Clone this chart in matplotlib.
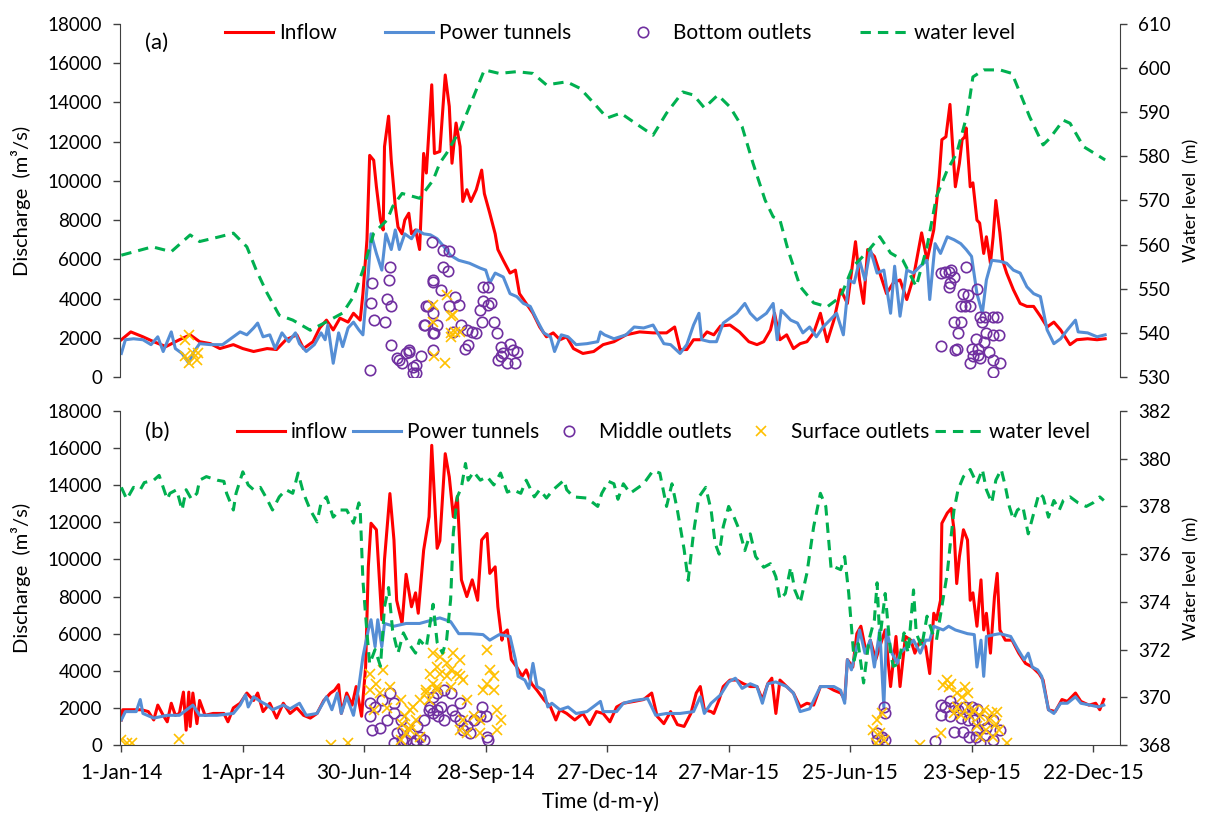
import numpy as np
import matplotlib
matplotlib.use('Agg')
import matplotlib.pyplot as plt
import matplotlib.dates as mdates

plt.rcParams['font.family'] = ['Lato', 'DejaVu Sans']

START = np.datetime64('2014-01-01')

# ---------------- panel (a) : days since 1-Jan-2014 ----------------
a_inflow_day = [0, 7, 16, 24, 33, 43, 51, 58, 66, 73, 83, 90, 98, 108, 115, 122, 130, 135, 142, 147,
                152, 157, 162, 168, 172, 177, 179, 182, 184, 187, 189, 192, 194, 195, 198, 200, 203, 205, 208, 210,
                213, 215, 218, 221, 224, 226, 230, 232, 236, 240, 243, 245, 248, 251, 253, 256, 259, 263, 267, 269,
                273, 277, 279, 283, 288, 292, 295, 300, 305, 310, 315, 320, 325, 330, 335, 342, 350, 357, 365, 374,
                384, 394, 404, 410, 414, 419, 424, 429, 434, 439, 444, 451, 458, 465, 471, 476, 481, 484, 488, 493,
                498, 503, 508, 513, 518, 523, 528, 533, 538, 544, 547, 550, 553, 558, 562, 567, 572, 577, 582, 587,
                593, 597, 602, 606, 608, 611, 614, 616, 618, 621, 623, 625, 626, 629, 631, 634, 636, 639, 641, 644,
                646, 648, 651, 653, 656, 661, 666, 671, 676, 681, 686, 691, 696, 703, 708, 716, 723, 729]
a_inflow = [1900, 2300, 2050, 1800, 1550, 1900, 2150, 1800, 1700, 1450, 1650, 1450, 1300, 1450, 1400, 1900, 2150, 1450, 1800, 2500,
            2900, 2400, 3000, 2800, 3250, 2900, 4250, 7000, 11300, 11050, 9700, 8000, 7500, 11750, 13300, 11050, 8700, 7650, 7300, 8000,
            8350, 7300, 7500, 6500, 11400, 10400, 14900, 11400, 11500, 15400, 13800, 10900, 12950, 11750, 8950, 9550, 8950, 9550, 10550, 9350,
            8350, 7300, 6500, 5950, 5300, 5450, 4250, 3750, 3250, 2550, 2050, 2250, 1900, 2050, 1450, 1200, 1300, 1650, 1800, 2150,
            2300, 2250, 2250, 2550, 1400, 1400, 1900, 1900, 2300, 2150, 2600, 2650, 2300, 1800, 1650, 1800, 2400, 3250, 1900, 2150,
            1450, 1700, 1800, 2250, 3250, 1800, 2900, 4450, 3750, 6900, 4950, 3750, 6500, 6150, 5300, 4250, 4800, 4950, 3950, 5100,
            7350, 5950, 7500, 10200, 12100, 12250, 13900, 11750, 9700, 10900, 12100, 12250, 12700, 9700, 9900, 8000, 7850, 6300, 7150, 5800,
            7150, 9000, 7350, 5950, 5300, 4450, 3750, 3600, 3600, 3100, 2550, 2800, 2400, 1650, 1900, 1950, 1900, 1950]

a_tunnel_day = [0, 3, 9, 16, 22, 27, 31, 37, 40, 45, 50, 53, 58, 66, 75, 83, 88, 93, 98, 101,
                105, 110, 114, 119, 124, 129, 132, 137, 143, 148, 151, 153, 157, 161, 164, 168, 172, 176, 179, 183,
                185, 189, 193, 196, 200, 203, 206, 210, 215, 219, 224, 229, 234, 239, 244, 250, 258, 266, 270, 273,
                277, 283, 288, 293, 298, 303, 308, 313, 318, 321, 326, 331, 337, 345, 353, 355, 358, 365, 374, 380,
                387, 394, 402, 407, 414, 419, 424, 428, 430, 436, 441, 446, 451, 456, 462, 466, 471, 478, 483, 486,
                489, 496, 501, 505, 510, 515, 520, 525, 530, 535, 539, 543, 547, 551, 555, 560, 565, 570, 573, 577,
                582, 587, 592, 597, 599, 603, 607, 612, 617, 622, 626, 630, 634, 638, 641, 645, 651, 656, 661, 666,
                671, 676, 681, 686, 691, 696, 701, 707, 709, 716, 723, 729]
a_tunnel = [1200, 1900, 1950, 1900, 1650, 2050, 1300, 2300, 1450, 1200, 700, 1200, 1700, 1650, 1650, 2050, 2300, 2150, 2500, 2750,
            2050, 2150, 1450, 2250, 1800, 2250, 1700, 1300, 1650, 2250, 1900, 2650, 700, 2250, 1550, 2500, 2800, 2400, 2150, 5300,
            7300, 6300, 5450, 7300, 6500, 7500, 6500, 7300, 7050, 7500, 7300, 7250, 7050, 6650, 6200, 5950, 5800, 5550, 5450, 4800,
            5300, 5100, 4250, 4100, 3750, 3600, 2900, 2250, 2050, 1300, 2150, 2050, 1650, 1700, 1800, 2300, 2150, 1950, 2150, 2550,
            2500, 2650, 1700, 1650, 1200, 1650, 2650, 3250, 1900, 1800, 1800, 2750, 3000, 3250, 3750, 3250, 2900, 3250, 3750, 1900,
            3400, 2900, 2750, 2250, 2550, 2050, 2550, 2900, 3250, 2150, 4950, 4800, 5950, 4950, 6500, 5300, 5450, 3250, 5650, 3100,
            5450, 5300, 5650, 5950, 3950, 6800, 6300, 7150, 7000, 6800, 6500, 6150, 4250, 3250, 4950, 5950, 5900, 5800, 5450, 5300,
            4600, 4250, 4100, 2400, 1700, 1950, 2400, 2900, 2300, 2250, 2050, 2150]

a_bottom_day = [184, 199, 198, 186, 197, 185, 200, 187, 195, 200, 204, 208, 213, 216, 218, 222, 230, 231, 227, 224,
                231, 232, 206, 211, 216, 238, 243, 238, 242, 231, 237, 247, 250, 243, 226, 231, 225, 234, 231, 246,
                252, 256, 260, 263, 267, 276, 266, 272, 268, 272, 268, 274, 255, 257, 278, 281, 283, 288, 290, 293,
                281, 286, 292, 279, 213, 218,
                607, 610, 613, 615, 617, 614, 613, 626, 634, 624, 627, 622, 625, 629, 617, 622, 620, 619, 618, 607,
                636, 640, 646, 649, 638, 641, 646, 650, 633, 639, 635, 630, 631, 636, 643, 646, 651, 635, 629, 646]
a_bottom = [350, 5600, 4950, 4800, 4000, 3750, 3600, 2900, 2800, 1650, 950, 700, 1400, 500, 200, 1050, 6900, 4950, 3600, 2650,
            1400, 2250, 850, 1200, 200, 6500, 6400, 5600, 5400, 4850, 4450, 4100, 3650, 3600, 3600, 3250, 2650, 2650, 2250, 2300,
            2650, 2400, 2300, 2250, 2800, 2800, 3400, 3650, 4600, 4600, 3900, 3750, 1450, 1650, 2250, 1550, 1200, 1700, 1400, 1300,
            1050, 700, 700, 850, 1300, 600,
            5300, 5350, 5350, 5450, 5100, 4800, 4600, 5600, 4500, 4250, 4200, 3600, 3600, 3600, 2800, 2800, 2250, 1450, 1400, 1600,
            3050, 3050, 3050, 3050, 2800, 2250, 2150, 2150, 1950, 1800, 1450, 1450, 1050, 950, 1300, 850, 700, 1100, 700, 250]

a_surface_day = [50, 47, 53, 57, 50, 47, 56, 231, 231, 232, 241, 244, 246, 244, 247, 251, 240, 244]
a_surface = [2150, 1900, 1200, 1200, 700, 1050, 850, 3650, 2800, 1050, 4200, 3100, 3150, 2250, 2300, 2300, 700, 2050]

a_level_day = [0, 23, 37, 51, 58, 73, 83, 93, 100, 108, 117, 127, 140, 152, 164, 172, 179, 187, 197, 201,
               208, 221, 231, 236, 241, 251, 260, 269, 280, 293, 305, 315, 330, 340, 350, 360, 370, 379, 394, 404,
               416, 424, 432, 442, 451, 460, 468, 477, 483, 488, 494, 503, 513, 523, 533, 542, 552, 562, 570, 579,
               589, 597, 604, 612, 619, 627, 631, 639, 651, 660, 666, 673, 683, 688, 698, 703, 713, 729]
a_level = [557.6, 559.5, 558.4, 562.2, 560.7, 561.8, 562.6, 559.5, 554.2, 549.0, 544.0, 542.9, 540.6, 542.5, 544.5, 548.2, 554.2, 562.6, 565.6, 568.6,
           571.6, 570.5, 574.6, 578.5, 580.7, 586.0, 592.8, 599.6, 598.8, 599.2, 598.8, 596.2, 596.9, 595.4, 592.1, 588.7, 589.8, 587.9, 584.8, 589.8,
           594.6, 593.9, 591.0, 593.9, 591.2, 586.7, 578.5, 570.1, 566.3, 565.6, 558.8, 550.5, 546.8, 545.9, 548.2, 555.0, 558.1, 561.8, 558.1, 556.5,
           550.5, 559.5, 570.9, 576.9, 580.7, 589.8, 598.0, 599.6, 599.6, 598.8, 594.3, 589.0, 582.6, 584.1, 588.2, 587.5, 582.2, 579.2]

# ---------------- panel (b) ----------------
b_inflow_day = [0, 1, 9, 15, 20, 24, 27, 31, 34, 37, 40, 43, 46, 48, 50, 51, 53, 56, 58, 62,
                68, 76, 79, 83, 88, 93, 98, 101, 105, 110, 115, 120, 125, 130, 135, 140, 145, 150, 155, 158,
                161, 163, 167, 171, 174, 178, 181, 183, 185, 189, 193, 195, 199, 202, 204, 208, 211, 215, 218, 220,
                224, 228, 230, 234, 236, 240, 243, 246, 249, 252, 256, 260, 264, 267, 271, 273, 277, 279, 282, 283,
                286, 289, 293, 297, 300, 304, 308, 313, 318, 322, 325, 330, 336, 342, 347, 352, 357, 362, 367, 372,
                380, 387, 393, 397, 402, 407, 412, 417, 422, 426, 429, 432, 437, 439, 443, 446, 451, 456, 461, 466,
                471, 475, 479, 482, 485, 488, 493, 498, 503, 508, 513, 518, 523, 528, 533, 536, 538, 542, 545, 548,
                552, 555, 559, 562, 566, 570, 574, 577, 581, 585, 588, 592, 596, 599, 602, 604, 607, 608, 612, 615,
                617, 619, 621, 624, 627, 629, 631, 634, 637, 639, 641, 644, 647, 649, 651, 655, 660, 665, 670, 675,
                680, 683, 687, 692, 697, 701, 707, 711, 717, 722, 725, 728]
b_inflow = [1350, 1900, 1900, 1900, 1800, 1350, 2150, 1600, 1250, 2250, 1600, 1700, 2850, 800, 2850, 1000, 2800, 1150, 2400, 1600,
            1700, 1700, 1250, 2000, 2250, 2800, 2400, 2800, 1800, 2250, 1450, 2250, 1700, 2000, 1600, 1450, 1700, 2400, 2800, 2950,
            3250, 1700, 2800, 2150, 3150, 1550, 4200, 9600, 11950, 11600, 6750, 10000, 13550, 11050, 7800, 6550, 9200, 7450, 8200, 7100,
            10500, 12300, 16150, 10600, 11000, 15700, 14450, 12300, 13400, 8900, 8000, 8900, 7800, 11050, 11400, 9250, 9600, 7450, 5650, 6000,
            6200, 4600, 4200, 3700, 4050, 3300, 2950, 2450, 2050, 1350, 1900, 1700, 1350, 1700, 1100, 1800, 1700, 1250, 2050, 2250,
            2350, 2450, 2800, 1550, 1150, 1800, 1100, 1000, 1700, 2800, 3150, 1900, 1800, 1700, 2450, 3150, 3500, 3500, 3300, 3150,
            3150, 2450, 3300, 3600, 1700, 3500, 3150, 2800, 2050, 2250, 2150, 3150, 3150, 2950, 2800, 2450, 4600, 4200, 6000, 6400,
            4950, 5650, 4600, 5300, 6200, 3150, 5850, 3150, 5850, 5650, 4950, 5650, 5300, 3850, 7100, 6750, 7800, 11950, 12500, 12750,
            11600, 8700, 10150, 11600, 11050, 7800, 8200, 6400, 8900, 6200, 7100, 4950, 8000, 9250, 6200, 5650, 5650, 4950, 4400, 4200,
            3850, 3500, 1900, 1800, 2450, 2350, 2800, 2350, 2150, 2250, 1900, 2450]

b_tunnel_day = [0, 3, 11, 14, 16, 24, 34, 43, 53, 58, 71, 83, 88, 92, 94, 98, 103, 108, 112, 120,
                125, 132, 137, 145, 152, 156, 160, 163, 167, 172, 176, 179, 183, 185, 188, 190, 193, 195, 202, 211,
                221, 231, 236, 244, 250, 258, 268, 273, 280, 288, 292, 294, 299, 302, 305, 308, 313, 316, 319, 325,
                331, 337, 345, 355, 357, 367, 372, 380, 390, 396, 404, 414, 424, 429, 432, 437, 444, 450, 455, 460,
                466, 471, 475, 479, 485, 488, 493, 498, 503, 510, 518, 528, 533, 536, 538, 541, 545, 547, 551, 555,
                558, 562, 565, 567, 571, 575, 577, 582, 587, 592, 596, 599, 602, 609, 613, 618, 627, 632, 634, 637,
                639, 641, 647, 651, 659, 664, 669, 672, 675, 679, 682, 687, 691, 696, 701, 707, 711, 718, 724, 728]
b_tunnel = [1350, 1800, 1800, 2450, 1700, 1450, 1600, 1600, 2150, 1600, 1600, 1700, 2150, 2700, 2050, 2600, 2350, 2150, 1900, 2150,
            1950, 2250, 1600, 1700, 2600, 1900, 2800, 1700, 2600, 1600, 3150, 4750, 6200, 6750, 5300, 6750, 5300, 6550, 6400, 6550,
            6550, 6750, 6850, 6650, 6000, 6000, 5950, 5650, 5950, 5850, 4600, 3700, 3500, 3050, 4400, 3150, 2950, 2050, 2250, 1900,
            2050, 1700, 1800, 2350, 1800, 1800, 2250, 2400, 2500, 1600, 1700, 1700, 1800, 2600, 1700, 2250, 2700, 3400, 3600, 3050,
            3300, 3150, 2250, 3300, 3400, 3300, 3150, 2800, 1800, 1950, 3150, 3150, 2950, 2250, 4600, 4050, 5300, 6200, 4950, 5650,
            4200, 6200, 2050, 6200, 4950, 4400, 4950, 5300, 5650, 4950, 5650, 5650, 6400, 6200, 6400, 6200, 6000, 5950, 4200, 5650,
            3700, 5850, 5950, 6000, 5850, 5200, 4600, 4950, 4200, 4050, 3700, 1900, 1700, 2250, 2250, 2600, 2250, 2150, 2050, 2150]

b_middle_day = [184, 188, 193, 199, 202, 184, 186, 192, 197, 202, 204, 208, 202, 209, 214, 219, 221, 216, 224, 229,
                231, 234, 218, 211, 207, 224, 228, 234, 239, 244, 237, 231, 235, 239, 245, 247, 251, 251, 256, 261,
                267, 266, 270, 253, 258, 271, 272,
                565, 566, 560, 564, 566, 560, 603, 607, 610, 614, 617, 620, 625, 630, 634, 607, 614, 622, 627, 632,
                638, 617, 624, 628, 633, 636, 641, 646, 651, 646, 634, 640]
b_middle = [2250, 2050, 2450, 2800, 2250, 1550, 800, 900, 1350, 1700, 650, 250, 100, 800, 650, 1000, 450, 100, 250, 2050,
            2600, 1900, 250, 250, 1350, 1350, 1900, 2800, 2950, 2800, 2050, 1700, 1550, 1350, 1900, 1550, 2250, 1350, 1000, 1350,
            2050, 1550, 1550, 800, 650, 450, 250,
            2050, 1700, 650, 450, 250, 250, 200, 2150, 2050, 2350, 2050, 1900, 2050, 2050, 1950, 1600, 1550, 1450, 1350, 1350,
            1350, 700, 700, 450, 450, 100, 900, 1350, 800, 250, 800, 550]

b_surface_day = [0, 4, 8, 43, 155, 168, 184, 189, 194, 199, 184, 192, 187, 197, 207, 210, 214, 218, 215, 211,
                 207, 221, 229, 231, 234, 228, 231, 234, 236, 241, 246, 244, 249, 251, 236, 226, 221, 216, 208, 214,
                 226, 234, 241, 244, 251, 253, 256, 261, 266, 256, 266, 271, 273, 276, 271, 276, 268, 278, 281, 278,
                 253, 251,
                 560, 564, 557, 562, 565, 559, 592, 607, 612, 615, 613, 609, 619, 625, 627, 623, 619, 627, 632, 639,
                 645, 649, 617, 622, 629, 636, 643, 648, 634, 641, 646, 650, 636, 656]
b_surface = [250, 100, 100, 350, 0, 100, 3850, 3300, 4050, 3150, 2950, 2800, 1900, 2000, 2450, 1550, 1900, 1350, 1000, 650,
             250, 450, 3850, 3300, 2950, 2450, 4950, 4200, 4750, 4400, 4950, 4050, 3850, 3700, 3850, 2800, 2450, 2050, 1150, 800,
             2950, 3150, 3700, 3150, 4600, 3500, 2450, 1550, 1350, 650, 650, 5100, 4050, 3700, 3300, 2950, 2950, 1900, 1350, 800,
             1350, 800,
             1350, 1700, 800, 650, 250, 100, 0, 650, 3500, 3300, 3150, 3250, 2800, 3150, 2800, 2600, 2050, 2050, 1900, 1900,
             1700, 1800, 1700, 1600, 1550, 1550, 1350, 1150, 1000, 800, 450, 800, 450, 100]

b_level_day = [0, 4, 9, 14, 17, 24, 28, 31, 34, 36, 41, 45, 48, 52, 56, 58, 63, 71, 76, 78,
               83, 85, 90, 94, 98, 103, 108, 112, 117, 122, 127, 131, 135, 140, 145, 148, 152, 157, 162, 167,
               172, 176, 177, 179, 182, 184, 188, 192, 195, 198, 201, 205, 209, 213, 218, 221, 226, 231, 234, 238,
               241, 244, 246, 249, 252, 255, 257, 261, 266, 271, 276, 281, 286, 290, 296, 300, 306, 310, 315, 320,
               328, 330, 335, 345, 353, 356, 361, 365, 368, 372, 377, 382, 387, 394, 399, 404, 408, 412, 417, 420,
               424, 428, 433, 437, 440, 443, 446, 450, 454, 458, 462, 466, 470, 476, 481, 485, 488, 492, 496, 499,
               503, 508, 513, 518, 522, 526, 529, 533, 536, 539, 543, 546, 550, 554, 558, 560, 562, 566, 570, 572,
               576, 580, 583, 587, 589, 593, 597, 601, 604, 608, 612, 614, 617, 620, 624, 629, 634, 638, 641, 645,
               648, 652, 655, 658, 661, 664, 668, 672, 676, 680, 683, 687, 691, 695, 698, 703, 709, 715, 720, 725, 728]
b_level = [378.8, 378.3, 378.8, 378.7, 379.0, 379.1, 379.3, 378.8, 378.3, 378.55, 378.7, 377.85, 378.7, 378.3, 378.55, 379.1, 379.25, 379.1, 379.05, 378.55,
           377.85, 378.55, 379.45, 378.9, 378.7, 378.8, 378.3, 377.85, 378.4, 378.7, 378.55, 379.4, 378.55, 377.85, 377.35, 378.15, 378.4, 377.55, 377.85, 377.85,
           377.3, 378.15, 377.85, 374.9, 372.7, 371.4, 372.0, 371.3, 373.8, 374.6, 372.8, 371.85, 372.7, 372.25, 371.85, 372.4, 372.1, 373.9, 372.3, 371.85,
           372.4, 374.1, 376.9, 378.4, 378.8, 379.8, 379.1, 379.45, 379.1, 379.25, 378.9, 379.4, 378.6, 378.7, 378.55, 379.1, 378.4, 378.7, 378.35, 378.7,
           379.1, 378.7, 378.4, 378.35, 378.0, 378.55, 379.05, 378.95, 378.3, 378.95, 378.55, 378.75, 378.95, 379.5, 379.4, 378.0, 378.95, 377.85, 376.2, 374.9,
           376.9, 378.4, 378.8, 377.85, 376.45, 376.0, 377.15, 378.0, 377.55, 377.0, 376.15, 376.85, 375.9, 375.45, 375.6, 375.05, 374.1, 374.35, 375.45, 374.5,
           373.95, 375.2, 377.15, 378.55, 378.0, 375.35, 375.45, 375.35, 375.9, 374.35, 371.55, 372.25, 370.6, 372.4, 373.25, 374.8, 372.4, 374.35, 371.85, 371.3,
           371.4, 372.7, 371.85, 374.5, 372.7, 372.1, 373.4, 372.7, 372.4, 373.8, 375.2, 376.3, 377.85, 378.7, 379.25, 379.55, 378.95, 379.55, 378.7, 378.15,
           379.1, 379.55, 378.85, 378.0, 377.45, 377.85, 378.0, 376.85, 377.7, 378.55, 378.4, 377.55, 378.25, 377.85, 378.25, 378.4, 378.15, 378.0, 378.15, 378.4, 378.25]

tick_days = [0, 90, 180, 270, 360, 450, 540, 630, 720]

RED = '#FF0000'
BLUE = '#558ED5'
GREEN = '#00B050'
PURPLE = '#7030A0'
YELLOW = '#FFC000'
SPINE = '#404040'
LEG_FS = 15


def to_dates(days):
    return START + np.array(days).astype('timedelta64[D]')


def style_axes(ax, ax2, show_bottom):
    for a in (ax, ax2):
        a.spines['top'].set_visible(False)
        a.spines['bottom'].set_visible(show_bottom)
        a.tick_params(labelsize=13.5, length=5, width=1, color=SPINE, direction='out')
        a.tick_params(axis='y', pad=8)
        for s in a.spines.values():
            s.set_color(SPINE)
    ax.spines['right'].set_visible(False)
    ax2.spines['left'].set_visible(False)
    ax2.spines['bottom'].set_visible(False)
    ax.set_xlim(START - np.timedelta64(1, 'D'), START + np.timedelta64(740, 'D'))
    ax.set_ylim(0, 18000)
    ax.set_yticks(range(0, 18001, 2000))
    ax.set_ylabel('Discharge  (m³/s)', fontsize=14.5, labelpad=12)
    ax2.set_ylabel('Water level  (m)', fontsize=12.8, labelpad=9)


fig = plt.figure(figsize=(12.06, 8.16), dpi=100)
ax_a = fig.add_axes([120 / 1206, 1 - 377 / 816, 1000 / 1206, 353 / 816])
ax_b = fig.add_axes([120 / 1206, 1 - 745 / 816, 1000 / 1206, 334 / 816])
ax_a2 = ax_a.twinx()
ax_b2 = ax_b.twinx()

line_kw = dict(lw=2.2)
dash_kw = dict(color=GREEN, lw=2.2, dashes=(3.4, 2.3))
circ_kw = dict(ls='none', marker='o', ms=7.5, mfc='none', mec=PURPLE, mew=1.2)
x_kw = dict(ls='none', marker='x', ms=7.5, mec=YELLOW, mew=1.2)
leg_kw = dict(frameon=False, fontsize=LEG_FS, handlelength=2.3, handletextpad=0.3,
              borderaxespad=0, borderpad=0, loc='center left')

# panel (a)
h1, = ax_a.plot(to_dates(a_inflow_day), a_inflow, color=RED, label='Inflow', **line_kw)
h2, = ax_a.plot(to_dates(a_tunnel_day), a_tunnel, color=BLUE, label='Power tunnels', **line_kw)
h3, = ax_a.plot(to_dates(a_bottom_day), a_bottom, label='Bottom outlets', **circ_kw)
ax_a.plot(to_dates(a_surface_day), a_surface, **x_kw)
h4, = ax_a2.plot(to_dates(a_level_day), a_level, label='water level', **dash_kw)
style_axes(ax_a, ax_a2, False)
ax_a.tick_params(axis='x', bottom=False, labelbottom=False)
ax_a2.set_ylim(530, 610)
ax_a2.set_yticks(range(530, 611, 10))
ax_a2.legend(handles=[h1, h2, h3, h4], bbox_to_anchor=(0.105, 0.974), ncol=4,
             columnspacing=2.3, **leg_kw)
fig.text(145 / 1206, 1 - 43 / 816, '(a)', fontsize=16, va='center')

# panel (b)
g1, = ax_b.plot(to_dates(b_inflow_day), b_inflow, color=RED, label='inflow', **line_kw)
g2, = ax_b.plot(to_dates(b_tunnel_day), b_tunnel, color=BLUE, label='Power tunnels', **line_kw)
g3, = ax_b.plot(to_dates(b_middle_day), b_middle, label='Middle outlets', **circ_kw)
g4, = ax_b.plot(to_dates(b_surface_day), b_surface, label='Surface outlets', **x_kw)
g5, = ax_b2.plot(to_dates(b_level_day), b_level, label='water level', **dash_kw)
style_axes(ax_b, ax_b2, True)
ax_b2.set_ylim(368, 382)
ax_b2.set_yticks(range(368, 383, 2))
ax_b.set_xticks(to_dates(tick_days))
ax_b.xaxis.set_major_formatter(mdates.DateFormatter('%-d-%b-%y'))
ax_b.tick_params(axis='x', labelsize=15, pad=8)
ax_b2.legend(handles=[g1, g2, g3, g4, g5], bbox_to_anchor=(0.117, 0.937), ncol=5,
             columnspacing=0.25, **leg_kw)
fig.text(145 / 1206, 1 - 432 / 816, '(b)', fontsize=16, va='center')

fig.text(600 / 1206, 1 - 802 / 816, 'Time (d-m-y)', fontsize=15, ha='center', va='center')

fig.savefig('out.png', dpi=100)
